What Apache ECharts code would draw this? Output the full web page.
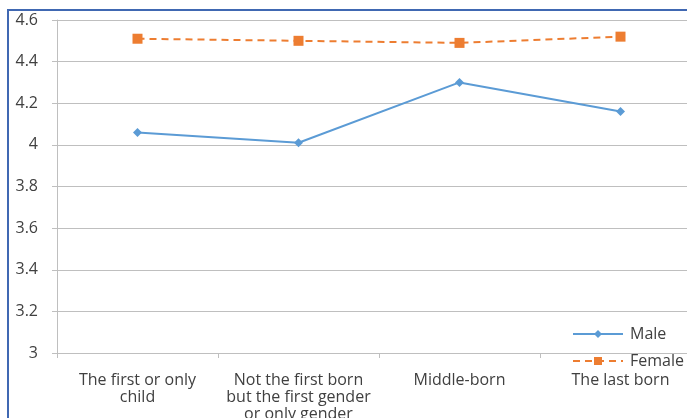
<!DOCTYPE html>
<html>
<head>
<meta charset="utf-8">
<script src="https://cdn.jsdelivr.net/npm/echarts@6/dist/echarts.min.js"></script>
<style>
  html, body { margin: 0; padding: 0; background: #ffffff; overflow: hidden; }
  #wrap { width: 687px; height: 418px; overflow: hidden; position: relative; }
  #chart { width: 720px; height: 418px; }
</style>
</head>
<body>
<div id="wrap"><div id="chart"></div></div>
<script>
// Birth-order categories along the x axis
const categories = [
  'The first or only\nchild',
  'Not the first born\nbut the first gender\nor only gender',
  'Middle-born',
  'The last born'
];
// Mean scores per group
const maleValues = [4.06, 4.01, 4.30, 4.16];
const femaleValues = [4.51, 4.50, 4.49, 4.52];
// Value axis tick labels
const yTicks = ['3', '3.2', '3.4', '3.6', '3.8', '4', '4.2', '4.4', '4.6'];

const FONT = '"Open Sans", "Liberation Sans", sans-serif';
const chart = echarts.init(document.getElementById('chart'), null, { renderer: 'canvas' });

chart.setOption({
  backgroundColor: '#ffffff',
  animation: false,
  graphic: [{
    type: 'polyline',
    shape: { points: [[8, 418], [8, 10], [720, 10]] },
    style: { stroke: '#4068b2', lineWidth: 2, fill: null },
    z: 10
  }],
  grid: {
    left: 57, top: 20, width: 644, height: 333,
    containLabel: false,
    outerBoundsMode: 'none'
  },
  legend: {
    orient: 'vertical',
    left: 567,
    top: 321,
    itemWidth: 50,
    itemHeight: 10,
    itemGap: 11,
    textStyle: { fontFamily: FONT, fontSize: 16, color: '#404040', padding: [0, 0, 0, 2] },
    data: ['Male', 'Female']
  },
  xAxis: {
    type: 'category',
    data: categories,
    boundaryGap: true,
    axisLine: { lineStyle: { color: '#bfbfbf', width: 1 } },
    axisTick: { show: true, length: 5, lineStyle: { color: '#bfbfbf' } },
    axisLabel: {
      fontFamily: FONT, fontSize: 16, color: '#404040',
      lineHeight: 17, margin: 19, interval: 0
    }
  },
  yAxis: {
    type: 'value',
    min: 3,
    max: 4.6,
    interval: 0.2,
    axisLine: { show: true, lineStyle: { color: '#bfbfbf', width: 1 } },
    axisTick: { show: true, length: 5, lineStyle: { color: '#bfbfbf' } },
    splitLine: { lineStyle: { color: '#bfbfbf', width: 1 } },
    axisLabel: {
      fontFamily: FONT, fontSize: 16, color: '#404040', margin: 19,
      formatter: function (v) {
        const idx = Math.round((v - 3) / 0.2);
        return yTicks[idx] !== undefined ? yTicks[idx] : '';
      }
    }
  },
  series: [
    {
      name: 'Male',
      type: 'line',
      data: maleValues,
      symbol: 'diamond',
      symbolSize: 9,
      itemStyle: { color: '#5b9bd5' },
      lineStyle: { color: '#5b9bd5', width: 2 }
    },
    {
      name: 'Female',
      type: 'line',
      data: femaleValues,
      symbol: 'rect',
      symbolSize: 10,
      itemStyle: { color: '#ed7d31' },
      lineStyle: { color: '#ed7d31', width: 2, type: [7, 5] }
    }
  ]
});
</script>
</body>
</html>
